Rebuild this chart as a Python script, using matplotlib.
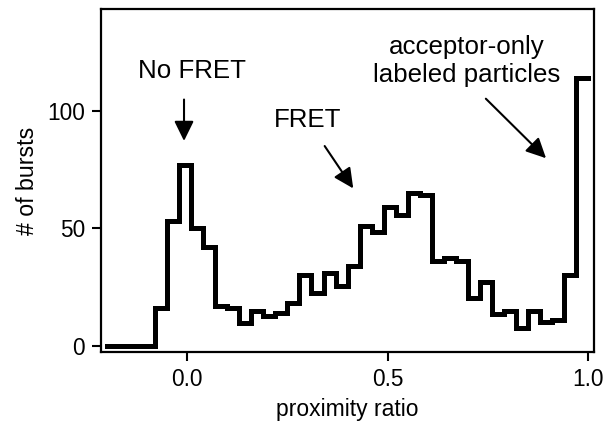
import numpy as np
import matplotlib
matplotlib.use("Agg")
import matplotlib.pyplot as plt

plt.rcParams['font.family'] = ['Liberation Sans', 'DejaVu Sans']

# histogram: bins of 0.03 from -0.2 to 1.0
edges = np.round(np.arange(-0.2, 1.0001, 0.03), 3)
counts = [0, 0, 0, 0, 16, 53, 77, 50, 42, 17,
          16, 9.5, 15, 12.5, 14, 18, 30, 22.5, 31, 25.5,
          34, 51, 48.5, 59, 55.5, 65, 64, 36, 37.5, 36,
          20.5, 27, 13.5, 15, 7.5, 15, 10, 11, 30, 114]

xticks = [0.0, 0.5, 1.0]
yticks = [0, 50, 100]

fig = plt.figure(figsize=(6.05, 4.23), dpi=100)
ax = fig.add_axes([0.167, 0.167, 0.815, 0.812])

ax.step(edges, list(counts) + [counts[-1]], where='post', color='black',
        lw=3.6, solid_joinstyle='miter')

ax.set_xlim(-0.215, 1.015)
ax.set_ylim(-2.8, 143.4)
ax.set_xticks(xticks)
ax.set_xticklabels(["0.0", "0.5", "1.0"])
ax.set_yticks(yticks)
ax.tick_params(direction='out', length=6.5, width=1.5, labelsize=16.3, pad=5)
for s in ax.spines.values():
  s.set_linewidth(1.6)

ax.set_xlabel("proximity ratio", fontsize=16.5, labelpad=5)
ax.set_ylabel("# of bursts", fontsize=16.7, labelpad=6)

arrow = dict(arrowstyle='-|>,head_length=0.55,head_width=0.27', color='black',
             lw=1.5, mutation_scale=22)
ax.annotate("", xy=(-0.008, 86), xytext=(-0.008, 106), arrowprops=arrow)
ax.text(0.012, 117, "No FRET", ha='center', va='center', fontsize=18.6)
ax.annotate("", xy=(0.418, 66), xytext=(0.339, 86), arrowprops=arrow)
ax.text(0.301, 96, "FRET", ha='center', va='center', fontsize=18.6)
ax.annotate("", xy=(0.900, 79), xytext=(0.740, 106), arrowprops=arrow)
ax.text(0.698, 121.3, "acceptor-only\nlabeled particles", ha='center',
        va='center', fontsize=18.6, linespacing=1.2)

plt.savefig("out.png", dpi=100)
